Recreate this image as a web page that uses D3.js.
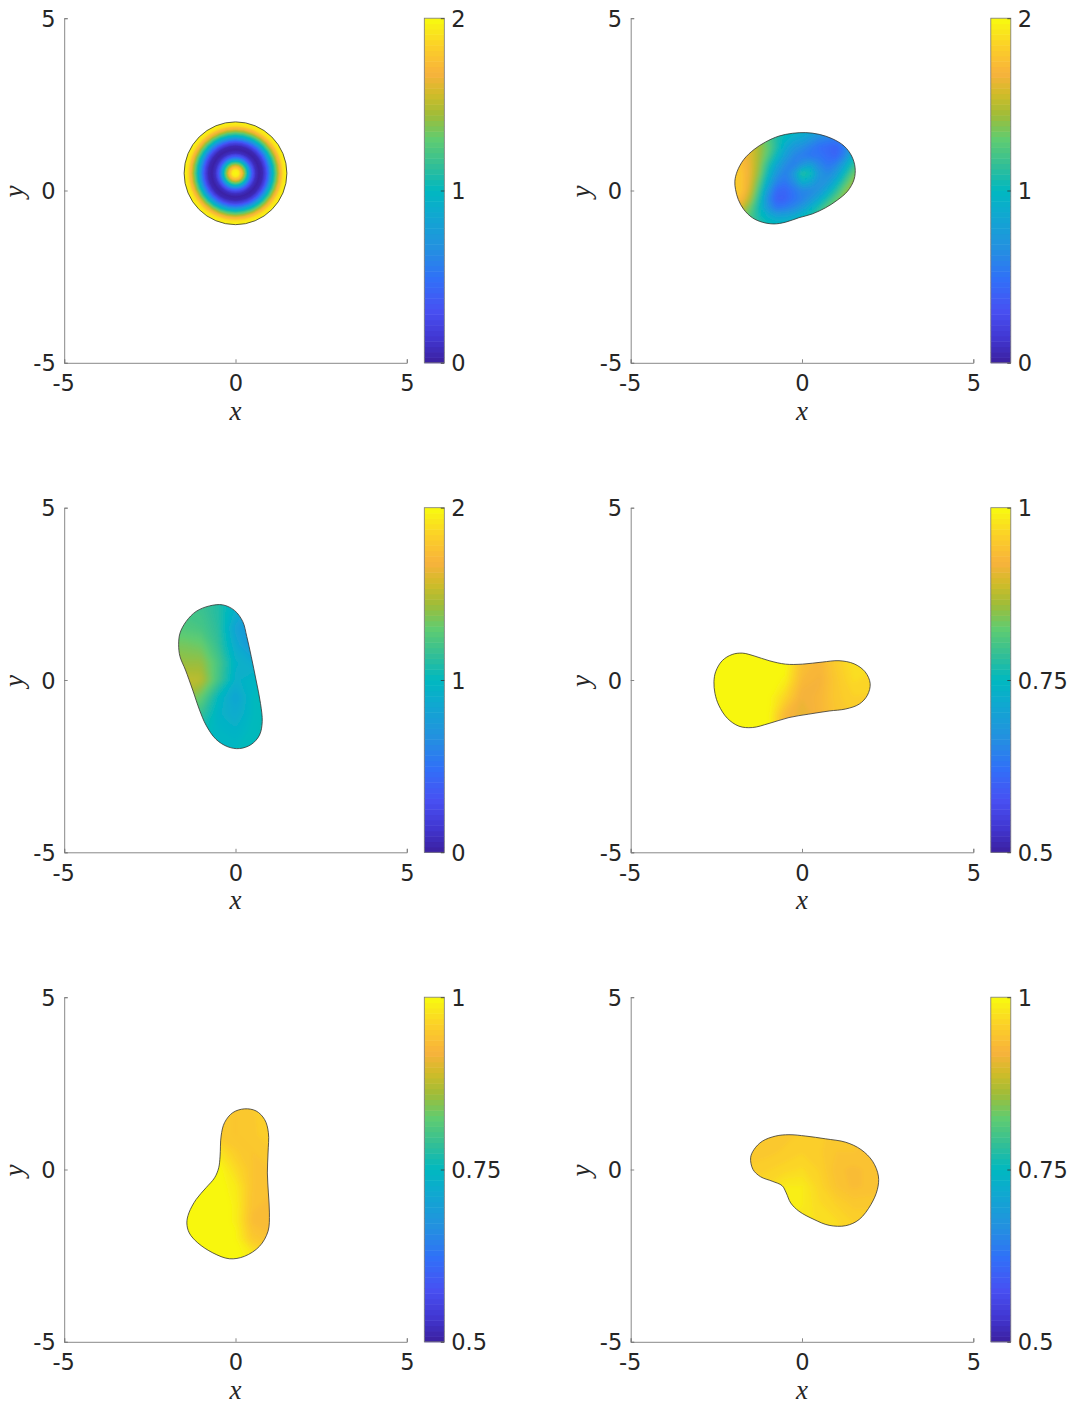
<!DOCTYPE html>
<html>
<head>
<meta charset="utf-8">
<script src="https://cdn.jsdelivr.net/npm/d3@7"></script>
<style>
  html, body { margin: 0; padding: 0; background: #fff; }
  text { font-family: "DejaVu Sans", sans-serif; fill: #262626; }
  .axisLabel { font-family: "Liberation Serif", serif; font-style: italic; font-size: 27px; }
</style>
</head>
<body>
<div id="chart"></div>
<script>
// colormap stops, bottom to top of the colorbar
var colormapStops = ["#3b1f9e", "#4136d0", "#4850f2", "#3070f8", "#2490e0", "#10a8d0", "#00b8c0",
    "#30be98", "#60cc70", "#a0bc38", "#d0bc28", "#f8b23c", "#fbd028", "#f8fb0e"];
var colormapPos = [0, 0.07, 0.15, 0.245, 0.33, 0.43, 0.5, 0.57, 0.65, 0.72, 0.78, 0.84, 0.92, 1];

var xTicks = [-5, 0, 5];
var yTicks = [-5, 0, 5];

// panel 1 is radial: distance from the centre (0, 0.5) and the value there
var discCentre = [0, 0.5];
var discRadius = [0, 0.1, 0.2, 0.3, 0.4, 0.5, 0.6, 0.7, 0.8, 0.9, 1.0, 1.1, 1.2, 1.3, 1.4, 1.5];
var discValue = [2, 1.95, 1.7, 1.3, 0.8, 0.35, 0.1, 0.02, 0.06, 0.25, 0.6, 0.98, 1.32, 1.65, 1.9, 1.98];

var outline2 = [[-1.96,.27],[-1.89,.56],[-1.70,.90],[-1.40,1.19],[-1.06,1.41],[-.67,1.58],[-.28,1.66],[.11,1.68],
    [.50,1.63],[.89,1.50],[1.23,1.29],[1.45,1.00],[1.55,.66],[1.52,.32],[1.33,-.02],[1.03,-.28],[.69,-.50],[.30,-.68],
    [-.09,-.79],[-.48,-.92],[-.82,-.97],[-1.16,-.92],[-1.45,-.79],[-1.70,-.55],[-1.86,-.26],[-1.94,.03]];
var gridX2 = [-2.25, -2, -1.75, -1.5, -1.25, -1, -.75, -.5, -.25, 0, .25, .5, .75, 1, 1.25, 1.5, 1.75];
var gridY2 = [1.75, 1.5, 1.25, 1, .75, .5, .25, 0, -.25, -.5, -.75, -1];
var field2 = [
    [1.6, 1.55, 1.5, 1.45, 1.35, 1.25, 1.12, 1.05, 1.0, .95, .88, .8, .75, .72, .78, .9, 1.0],
    [1.7, 1.65, 1.6, 1.5, 1.4, 1.25, 1.1, .98, .88, .82, .72, .62, .58, .55, .65, .85, 1.0],
    [1.75, 1.7, 1.65, 1.6, 1.45, 1.3, 1.1, .88, .72, .65, .56, .48, .44, .4, .55, .85, 1.05],
    [1.8, 1.75, 1.7, 1.6, 1.45, 1.25, 1.0, .78, .62, .56, .52, .52, .46, .42, .62, .95, 1.15],
    [1.82, 1.8, 1.75, 1.62, 1.42, 1.12, .85, .65, .58, .7, .8, .62, .52, .6, .85, 1.12, 1.28],
    [1.85, 1.82, 1.78, 1.62, 1.38, 1.02, .72, .58, .72, 1.15, 1.05, .72, .62, .75, 1.02, 1.3, 1.4],
    [1.85, 1.82, 1.78, 1.6, 1.28, .9, .6, .52, .65, .92, .85, .68, .72, .92, 1.2, 1.42, 1.5],
    [1.85, 1.82, 1.78, 1.55, 1.18, .75, .45, .42, .52, .62, .62, .7, .88, 1.12, 1.35, 1.5, 1.55],
    [1.8, 1.78, 1.7, 1.45, 1.08, .65, .4, .4, .5, .58, .7, .88, 1.1, 1.28, 1.45, 1.55, 1.6],
    [1.7, 1.65, 1.55, 1.3, 1.02, .72, .52, .55, .62, .75, .92, 1.1, 1.28, 1.4, 1.5, 1.55, 1.6],
    [1.5, 1.45, 1.4, 1.22, 1.05, .92, .82, .82, .88, .98, 1.1, 1.22, 1.32, 1.4, 1.45, 1.5, 1.5],
    [1.4, 1.35, 1.3, 1.22, 1.12, 1.05, 1.02, 1.02, 1.05, 1.1, 1.15, 1.25, 1.32, 1.38, 1.42, 1.45, 1.5]];

var outline3 = [[-1.66,1.02],[-1.62,1.36],[-1.44,1.70],[-1.15,1.99],[-.76,2.15],[-.37,2.18],[-.03,2.02],[.21,1.70],
    [.33,1.26],[.46,.68],[.60,0],[.73,-.68],[.78,-1.21],[.70,-1.60],[.46,-1.87],[.12,-1.99],[-.22,-1.94],[-.57,-1.72],
    [-.86,-1.31],[-1.05,-.87],[-1.25,-.29],[-1.46,.29],[-1.62,.68]];
var gridX3 = [-2, -1.5, -1, -.5, 0, .5, 1];
var gridY3 = [2.5, 2, 1.5, 1, .5, 0, -.5, -1, -1.5, -2, -2.5];
var field3 = [
    [1.2, 1.2, 1.18, 1.1, .92, .75, .7],
    [1.2, 1.2, 1.18, 1.1, .92, .75, .7],
    [1.25, 1.25, 1.22, 1.12, .82, .68, .65],
    [1.35, 1.35, 1.32, 1.15, .88, .72, .7],
    [1.5, 1.42, 1.42, 1.22, .95, .88, .85],
    [1.55, 1.52, 1.5, 1.2, .92, .98, 1.02],
    [1.5, 1.45, 1.3, 1.0, .82, 1.0, 1.05],
    [1.3, 1.25, 1.15, .95, .88, 1.0, 1.05],
    [1.1, 1.1, 1.05, .98, .95, 1.02, 1.05],
    [1.0, 1.0, 1.0, 1.0, 1.0, 1.0, 1.0],
    [1.0, 1.0, 1.0, 1.0, 1.0, 1.0, 1.0]];

var outline4 = [[-2.57,-.05],[-2.52,.24],[-2.33,.56],[-2.04,.74],[-1.74,.78],[-1.40,.70],[-.96,.56],[-.48,.46],
    [.01,.46],[.59,.52],[1.08,.56],[1.52,.47],[1.84,.24],[1.99,-.10],[1.91,-.44],[1.67,-.70],[1.28,-.84],[.79,-.90],
    [.20,-.99],[-.38,-1.09],[-.96,-1.26],[-1.45,-1.38],[-1.84,-1.34],[-2.18,-1.11],[-2.43,-.73],[-2.54,-.39]];
var gridX4 = [-3, -2.5, -2, -1.5, -1, -.5, 0, .5, 1, 1.5, 2, 2.5];
var gridY4 = [1, .5, 0, -.5, -1, -1.5];
var field4 = [
    [1, 1, 1, 1, 1, 1, .95, .93, .955, .975, .975, .975],
    [1, 1, 1, 1, 1, 1, .94, .925, .955, .975, .975, .97],
    [1, 1, 1, 1, 1, .99, .93, .92, .95, .97, .965, .96],
    [1, 1, 1, 1, 1, .965, .915, .925, .95, .96, .96, .955],
    [1, 1, 1, 1, 1, .93, .905, .925, .945, .955, .955, .95],
    [1, 1, 1, 1, 1, .93, .91, .925, .945, .955, .955, .95]];

var outline5 = [[-1.42,-1.55],[-1.36,-1.26],[-1.15,-.87],[-.86,-.53],[-.61,-.24],[-.49,.05],[-.45,.39],[-.42,.97],
    [-.32,1.36],[-.08,1.65],[.26,1.76],[.60,1.70],[.85,1.45],[.96,1.07],[.95,.48],[.93,-.10],[.96,-.68],[.99,-1.26],
    [.95,-1.79],[.70,-2.23],[.26,-2.52],[-.18,-2.59],[-.66,-2.42],[-1.10,-2.13],[-1.35,-1.84]];
var gridX5 = [-1.5, -1, -.5, 0, .5, 1];
var gridY5 = [2, 1.5, 1, .5, 0, -.5, -1, -1.5, -2, -2.5, -3];
var field5 = [
    [.95, .95, .95, .945, .955, .97],
    [.95, .95, .95, .945, .95, .965],
    [.95, .95, .95, .945, .95, .96],
    [.98, .98, .98, .955, .945, .95],
    [1, 1, 1, .97, .945, .945],
    [1, 1, 1, .985, .945, .94],
    [1, 1, 1, .99, .94, .935],
    [1, 1, 1, .99, .935, .93],
    [1, 1, 1, .995, .95, .94],
    [1, 1, 1, 1, .985, .97],
    [1, 1, 1, 1, .99, .98]];

var outline6 = [[-1.50,.34],[-1.40,.58],[-1.16,.82],[-.77,.97],[-.38,1.01],[.11,.97],[.69,.89],[1.28,.79],[1.72,.58],
    [2.06,.24],[2.23,-.19],[2.20,-.58],[2.01,-1.02],[1.67,-1.45],[1.28,-1.63],[.79,-1.62],[.35,-1.45],[-.09,-1.21],
    [-.33,-.97],[-.46,-.68],[-.58,-.47],[-.87,-.34],[-1.21,-.21],[-1.43,0]];
var gridX6 = [-2, -1.5, -1, -.5, 0, .5, 1, 1.5, 2, 2.5];
var gridY6 = [1.5, 1, .5, 0, -.5, -1, -1.5, -2];
var field6 = [
    [.94, .94, .94, .945, .95, .95, .95, .95, .95, .95],
    [.945, .945, .945, .95, .955, .955, .95, .95, .945, .945],
    [.95, .95, .95, .955, .96, .955, .945, .945, .945, .945],
    [.955, .955, .96, .965, .97, .96, .94, .935, .94, .94],
    [.965, .965, .97, .985, .985, .965, .945, .935, .94, .94],
    [.975, .975, .985, .995, .985, .97, .96, .95, .95, .95],
    [.975, .975, .985, .985, .98, .975, .97, .96, .96, .96],
    [.975, .975, .985, .985, .98, .975, .97, .96, .96, .96]];

var barTicksA = [0, 1, 2];
var barTicksB = [0.5, 0.75, 1];

// one entry per subplot
var panels = [
    {left: 64.2, top: 18.2, domain: [0, 2], barTicks: barTicksA, disc: true},
    {left: 630.7, top: 18.2, domain: [0, 2], barTicks: barTicksA, outline: outline2, gx: gridX2, gy: gridY2, field: field2},
    {left: 64.2, top: 507.7, domain: [0, 2], barTicks: barTicksA, outline: outline3, gx: gridX3, gy: gridY3, field: field3},
    {left: 630.7, top: 507.7, domain: [0.5, 1], barTicks: barTicksB, outline: outline4, gx: gridX4, gy: gridY4, field: field4},
    {left: 64.2, top: 997.2, domain: [0.5, 1], barTicks: barTicksB, outline: outline5, gx: gridX5, gy: gridY5, field: field5},
    {left: 630.7, top: 997.2, domain: [0.5, 1], barTicks: barTicksB, outline: outline6, gx: gridX6, gy: gridY6, field: field6}
];

var svgWidth = 1072;
var svgHeight = 1405;
var plotWidth = 342.6;
var plotHeight = 344.6;
var barLeft = 360.1;
var barWidth = 20;
var levels = 64;
var axisColor = "#7a7a7a";
var fontSize = 22.5;

var svg = d3.select("#chart").append("svg")
    .attr("width", svgWidth)
    .attr("height", svgHeight)
    .style("display", "block");

var defs = svg.append("defs");
defs.append("filter").attr("id", "soft")
    .attr("x", "-10%").attr("y", "-10%").attr("width", "120%").attr("height", "120%")
    .append("feGaussianBlur").attr("stdDeviation", 2.2);

var colormap = d3.scaleLinear().domain(colormapPos).range(colormapStops).interpolate(d3.interpolateRgb);

panels.forEach(function(p, i) {
    var g = svg.append("g").attr("transform", `translate(${p.left}, ${p.top})`);
    var x = d3.scaleLinear().domain([-5, 5]).range([0, plotWidth]);
    var y = d3.scaleLinear().domain([-5, 5]).range([plotHeight, 0]);
    var frac = d3.scaleLinear().domain(p.domain).range([0, 1]).clamp(true);
    var color = d => colormap(frac(d));

    if (p.disc) {
        // draw outermost ring first
        var profile = d3.scaleLinear().domain(discRadius).range(discValue);
        var rs = d3.range(1.5, 0, -0.02);
        g.selectAll("circle.ring").data(rs).enter().append("circle")
            .attr("class", "ring")
            .attr("cx", x(discCentre[0]))
            .attr("cy", y(discCentre[1]))
            .attr("r", r => x(r) - x(0))
            .attr("fill", r => color(profile(r)));
        g.append("circle")
            .attr("cx", x(discCentre[0]))
            .attr("cy", y(discCentre[1]))
            .attr("r", x(1.5) - x(0))
            .attr("fill", "none")
            .attr("stroke", "#333")
            .attr("stroke-width", 0.8);
    } else {
        var outlinePath = d3.line().x(d => x(d[0])).y(d => y(d[1])).curve(d3.curveCatmullRomClosed.alpha(0.5));
        defs.append("clipPath").attr("id", "clip" + i)
            .append("path").attr("d", outlinePath(p.outline));

        // filled bands of the field, grid centres sit at u + 0.5
        var n = p.gx.length, m = p.gy.length;
        var ux = d3.scaleLinear().domain([0.5, n - 0.5]).range([p.gx[0], p.gx[n - 1]]);
        var uy = d3.scaleLinear().domain([0.5, m - 0.5]).range([p.gy[0], p.gy[m - 1]]);
        var step = (p.domain[1] - p.domain[0]) / levels;
        var thresholds = d3.range(levels).map(k => p.domain[0] + k * step);
        var contours = d3.contours().size([n, m]).thresholds(thresholds)(p.field.flat());
        var toPlot = d3.geoTransform({
            point: function(u, v) { this.stream.point(x(ux(u)), y(uy(v))); }
        });
        var clipped = g.append("g").attr("clip-path", `url(#clip${i})`);
        clipped.append("g").attr("filter", "url(#soft)")
            .selectAll("path").data(contours).enter().append("path")
            .attr("d", d3.geoPath(toPlot))
            .attr("fill", d => color(d.value + step / 2));
        g.append("path")
            .attr("d", outlinePath(p.outline))
            .attr("fill", "none")
            .attr("stroke", "#333")
            .attr("stroke-width", 0.8);
    }

    // axes: left and bottom only, ticks pointing in
    var xAxis = g.append("g")
        .attr("transform", `translate(0, ${plotHeight})`)
        .call(d3.axisBottom(x).tickValues(xTicks).tickSize(-3.5).tickPadding(0).tickFormat(d => String(d)));
    var yAxis = g.append("g")
        .call(d3.axisLeft(y).tickValues(yTicks).tickSize(-3.5).tickPadding(0).tickFormat(d => String(d)));
    [xAxis, yAxis].forEach(function(a) {
        a.selectAll("path, line").attr("stroke", axisColor).attr("stroke-width", 0.9);
        a.selectAll("text").attr("font-size", fontSize).attr("font-family", "DejaVu Sans").attr("fill", "#262626");
    });
    xAxis.selectAll("text").attr("y", 28.5).attr("dy", 0).attr("text-anchor", "middle").attr("dx", d => d < 0 ? -1 : 0);
    yAxis.selectAll("text").attr("x", -8.5).attr("dy", "0.36em").attr("text-anchor", "end");

    g.append("text").attr("class", "axisLabel")
        .attr("x", x(0)).attr("y", plotHeight + 57).attr("text-anchor", "middle").text("x");
    g.append("text").attr("class", "axisLabel")
        .attr("transform", `translate(-41, ${y(0) + 1}) rotate(-90)`)
        .attr("text-anchor", "middle").text("y");

    // colorbar
    var bar = g.append("g").attr("transform", `translate(${barLeft}, 0)`);
    var barY = d3.scaleLinear().domain(p.domain).range([plotHeight, 0]);
    var cellH = plotHeight / levels;
    bar.selectAll("rect.cell").data(d3.range(levels)).enter().append("rect")
        .attr("class", "cell")
        .attr("x", 0)
        .attr("y", k => plotHeight - (k + 1) * cellH)
        .attr("width", barWidth)
        .attr("height", cellH + 0.5)
        .attr("fill", k => colormap((k + 0.5) / levels));
    bar.append("rect")
        .attr("width", barWidth).attr("height", plotHeight)
        .attr("fill", "none").attr("stroke", axisColor).attr("stroke-width", 0.8);
    var barAxis = bar.append("g")
        .attr("transform", `translate(${barWidth}, 0)`)
        .call(d3.axisRight(barY).tickValues(p.barTicks).tickSize(-3.5).tickPadding(0).tickFormat(d => String(d)));
    barAxis.select("path").remove();
    barAxis.selectAll("line").attr("stroke", "#333").attr("stroke-width", 0.8);
    barAxis.selectAll("text")
        .attr("x", 7).attr("dy", "0.36em")
        .attr("font-size", fontSize).attr("font-family", "DejaVu Sans").attr("fill", "#262626");
});
</script>
</body>
</html>
